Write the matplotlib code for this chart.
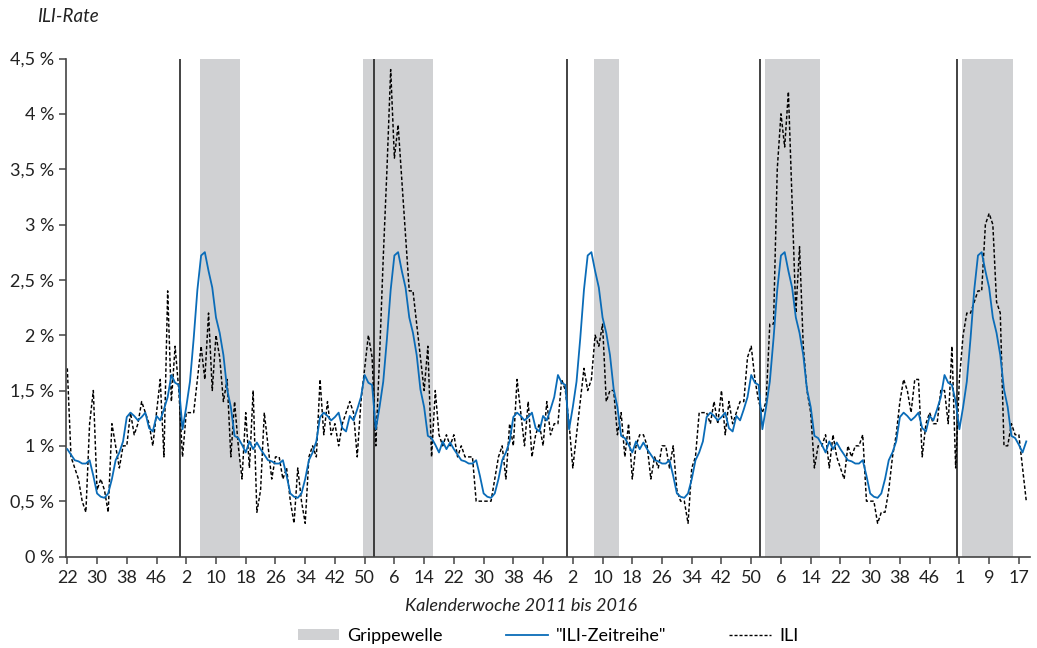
import numpy as np
import matplotlib
matplotlib.use("Agg")
import matplotlib.pyplot as plt
from matplotlib.patches import Patch
from matplotlib.lines import Line2D

plt.rcParams['font.family'] = ['Lato', 'DejaVu Sans']

# ===========================
# DATA
# ===========================

# calendar weeks per year shown (2015 has 53 weeks)
years = [2011, 2012, 2013, 2014, 2015, 2016]
first_week = [22, 1, 1, 1, 1, 1]
last_week = [52, 52, 52, 52, 53, 19]

# "ILI-Zeitreihe": same seasonal profile every year, KW 1..52
profil = [1.15, 1.35, 1.58, 1.97, 2.41, 2.72, 2.75, 2.58, 2.43, 2.16,
          2.02, 1.82, 1.51, 1.35, 1.09, 1.07, 1.01, 0.94, 1.04, 0.97,
          1.03, 0.97, 0.92, 0.87, 0.86, 0.84, 0.84, 0.87, 0.73, 0.57,
          0.54, 0.53, 0.57, 0.70, 0.87, 0.94, 1.04, 1.26, 1.30, 1.27,
          1.23, 1.26, 1.30, 1.16, 1.13, 1.27, 1.23, 1.33, 1.44, 1.64,
          1.57, 1.55]
profil_kw53 = 1.40

# ILI rate (%), one list per year
ili_2011 = [1.7, 0.9, 0.8, 0.7, 0.5, 0.4, 1.2, 1.5, 0.6, 0.7,
            0.6, 0.4, 1.2, 1.0, 0.8, 1.0, 1.0, 1.3, 1.1, 1.2,
            1.4, 1.3, 1.2, 1.0, 1.3, 1.6, 0.9, 2.4, 1.4, 1.9,
            1.5]
ili_2012 = [0.9, 1.3, 1.3, 1.3, 1.6, 1.9, 1.6, 2.2, 1.5, 2.0,
            1.8, 1.4, 1.6, 0.9, 1.4, 1.0, 0.7, 1.3, 0.8, 1.5,
            0.4, 0.6, 1.3, 1.0, 0.7, 0.9, 0.9, 0.7, 0.8, 0.5,
            0.3, 0.8, 0.5, 0.3, 0.9, 1.0, 0.9, 1.6, 1.1, 1.4,
            1.1, 1.2, 1.0, 1.2, 1.3, 1.4, 1.3, 0.9, 1.4, 1.7,
            2.0, 1.8]
ili_2013 = [1.0, 1.8, 2.7, 3.5, 4.4, 3.6, 3.9, 3.4, 2.9, 2.4,
            2.4, 2.1, 1.8, 1.5, 1.9, 0.9, 1.5, 1.1, 1.0, 1.1,
            1.0, 1.1, 0.9, 1.0, 0.9, 0.9, 0.9, 0.5, 0.5, 0.5,
            0.5, 0.5, 0.7, 0.9, 1.0, 0.7, 1.2, 1.0, 1.6, 1.3,
            1.0, 1.4, 0.9, 1.1, 1.2, 1.0, 1.4, 1.1, 1.2, 1.2,
            1.6, 1.5]
ili_2014 = [1.2, 0.8, 1.1, 1.4, 1.7, 1.5, 1.6, 2.0, 1.9, 2.1,
            1.4, 1.5, 1.5, 1.1, 1.3, 0.9, 1.2, 0.7, 1.0, 1.1,
            1.1, 1.0, 0.7, 0.9, 0.8, 1.0, 1.0, 0.8, 1.0, 0.6,
            0.5, 0.5, 0.3, 0.8, 0.9, 1.3, 1.3, 1.3, 1.2, 1.4,
            1.2, 1.5, 1.1, 1.4, 1.2, 1.3, 1.4, 1.4, 1.8, 1.9,
            1.6, 1.4]
ili_2015 = [1.3, 1.4, 2.1, 2.1, 3.5, 4.0, 3.7, 4.2, 3.2, 2.2,
            2.8, 1.9, 1.5, 1.3, 0.8, 1.0, 1.0, 1.1, 0.8, 1.1,
            0.9, 0.8, 0.7, 1.0, 0.9, 1.0, 1.0, 1.1, 0.5, 0.5,
            0.5, 0.3, 0.4, 0.4, 0.6, 0.9, 1.1, 1.4, 1.6, 1.5,
            1.3, 1.6, 1.6, 0.9, 1.2, 1.3, 1.2, 1.2, 1.5, 1.5,
            1.2, 1.9, 0.8]
ili_2016 = [1.6, 2.0, 2.2, 2.2, 2.3, 2.4, 2.4, 3.0, 3.1, 3.0,
            2.3, 2.2, 1.0, 1.0, 1.2, 1.1, 1.1, 0.8, 0.5]

# Grippewellen: (year start, KW start, year end, KW end)
grippewelle = [(2012, 6, 2012, 16),
               (2012, 50, 2013, 16),
               (2014, 8, 2014, 14),
               (2015, 2, 2015, 16),
               (2016, 2, 2016, 15)]

# ===========================
# BUILD SERIES
# ===========================
kw = []
for y, a, b in zip(years, first_week, last_week):
    kw += [(y, w) for w in range(a, b + 1)]
pos = {k: i for i, k in enumerate(kw)}
x = np.arange(len(kw))

ili = ili_2011 + ili_2012 + ili_2013 + ili_2014 + ili_2015 + ili_2016
zeitreihe = (profil[21:] + profil + profil + profil + profil + [profil_kw53]
             + profil[:19])

# ===========================
# PLOT
# ===========================
fig = plt.figure(figsize=(10.37, 6.48), dpi=100)
ax = fig.add_axes([66 / 1037, 91.5 / 648, 964 / 1037, 498 / 648])

for y0, w0, y1, w1 in grippewelle:
    ax.axvspan(pos[(y0, w0)] - 0.4, pos[(y1, w1)] + 0.5,
               color='#d0d1d3', lw=0, zorder=0)

for y in years[1:]:
    ax.axvline(pos[(y, 1)] - 0.6, color='#222222', lw=1.2, zorder=1)

ax.plot(x, zeitreihe, color='#0a6cb8', lw=1.3, zorder=3)
ax.plot(x, ili, color='black', lw=1.05, ls=(0, (2.4, 1.5)), zorder=2)

ax.set_xlim(-0.35, 259)
ax.set_ylim(0, 4.5)

yt = np.arange(0, 4.51, 0.5)
ax.set_yticks(yt)
ax.set_yticklabels([('%g' % v).replace('.', ',') + ' %' for v in yt])
ticks = list(range(0, len(kw), 8))
ax.set_xticks(ticks)
ax.set_xticklabels([str(kw[i][1]) for i in ticks])

for s in ['top', 'right']:
    ax.spines[s].set_visible(False)
for s in ['left', 'bottom']:
    ax.spines[s].set_color('#444444')
    ax.spines[s].set_linewidth(1.2)
ax.tick_params(axis='both', colors='#444444', labelcolor='#222222',
               labelsize=13, length=5, width=1.1)
ax.tick_params(axis='x', pad=5)

fig.text(37 / 1037, 1 - 17 / 648, 'ILI-Rate', style='italic', fontsize=13.5,
         va='center', ha='left', color='#222222')
fig.text(521 / 1037, 1 - 606 / 648, 'Kalenderwoche 2011 bis 2016',
         style='italic', fontsize=13, va='center', ha='center', color='#222222')

handles = [Patch(facecolor='#d0d1d3', edgecolor='none'),
           Line2D([], [], color='#0a6cb8', lw=1.3),
           Line2D([], [], color='black', lw=1.0, ls=(0, (2.2, 1.4)))]
fig.legend(handles, ['Grippewelle', '"ILI-Zeitreihe"', 'ILI'],
           loc='center', bbox_to_anchor=(548 / 1037, 1 - 636 / 648),
           ncol=3, frameon=False, fontsize=13, handlelength=2.3,
           handleheight=0.6, handletextpad=0.45, columnspacing=3.5)

fig.savefig('out.png', dpi=100)
